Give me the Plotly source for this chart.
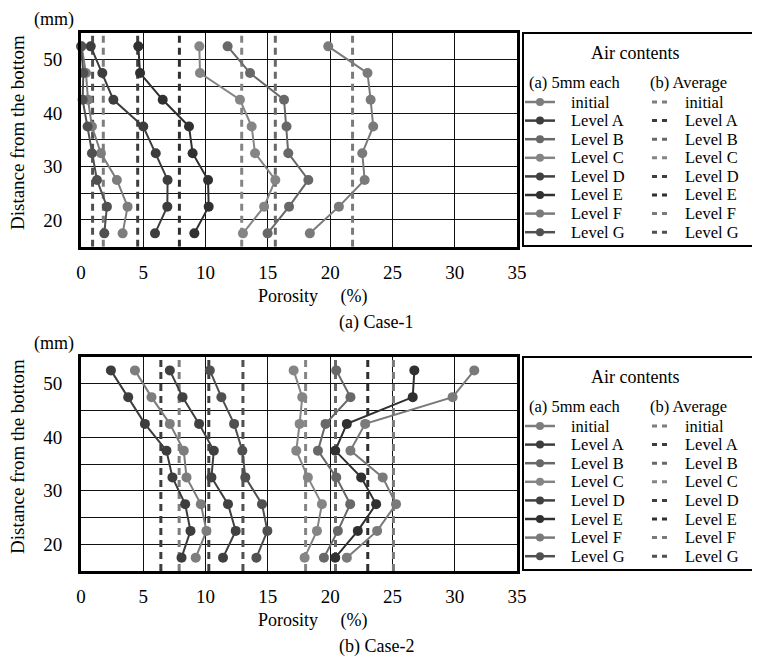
import plotly.graph_objects as go

# ---------------- data ----------------
levels = ["initial", "Level A", "Level B", "Level C", "Level D", "Level E", "Level F", "Level G"]
depth_mm = [52.5, 47.5, 42.5, 37.5, 32.5, 27.5, 22.5, 17.5]
x_ticks = [0, 5, 10, 15, 20, 25, 30, 35]
y_tick_vals = [15, 20, 25, 30, 35, 40, 45, 50, 55]
y_tick_text = ["", "20", "", "30", "", "40", "", "50", ""]
y_range = [15, 55]

# Case-1 porosity (%) for each 5 mm layer (top -> bottom)
c1_initial = [0.05, 0.40, 0.56, 0.88, 1.60, 2.88, 3.74, 3.34]
c1_A = [0.78, 1.71, 2.60, 5.00, 6.00, 6.95, 6.93, 5.94]
c1_B = [11.77, 13.57, 16.30, 16.50, 16.64, 18.25, 16.70, 14.98]
c1_C = [9.50, 9.55, 12.76, 13.70, 13.97, 15.60, 14.70, 13.00]
c1_D = []
c1_E = [4.60, 4.74, 6.56, 8.67, 8.96, 10.20, 10.25, 9.10]
c1_F = [19.85, 23.00, 23.25, 23.46, 22.58, 22.77, 20.70, 18.37]
c1_G = [0.00, 0.19, 0.13, 0.53, 0.88, 1.28, 2.08, 1.87]
c1_avg = [1.79, 4.55, 15.60, 12.90, None, 7.90, 21.80, 0.93]

# Case-2
c2_initial = [4.33, 5.66, 7.13, 8.25, 8.47, 9.62, 10.07, 9.21]
c2_A = [2.40, 3.79, 5.13, 6.86, 7.34, 8.36, 8.79, 8.07]
c2_B = [20.49, 21.63, 19.63, 19.02, 20.49, 21.61, 20.62, 19.50]
c2_C = [17.07, 17.76, 17.55, 17.28, 18.21, 19.34, 18.94, 17.95]
c2_D = [7.13, 8.15, 9.48, 10.66, 10.47, 11.80, 12.42, 11.40]
c2_E = [26.76, 26.63, 21.34, 20.41, 22.49, 23.69, 22.22, 20.41]
c2_F = [31.57, 29.83, 22.81, 21.63, 24.22, 25.29, 23.77, 21.34]
c2_G = [10.34, 11.27, 12.29, 12.95, 13.19, 14.53, 14.96, 14.08]
c2_avg = [7.88, 6.41, 20.43, 18.03, 10.26, 23.02, 25.08, 13.00]

# ---------------- style ----------------
colors = ["#7d7d7d", "#3d3d3d", "#686868", "#858585", "#404040", "#303030", "#7a7a7a", "#505050"]
FONT = "Liberation Serif"
FS = 19
LFS = 16.5
PAGE_OFF = 8            # default body margin of the html page
W, H = 760 - PAGE_OFF, 662 - PAGE_OFF
# plot area in page pixels: x 81..517, bottom plot bottom at 571
ML = 81 - PAGE_OFF
MR = W - (517 - PAGE_OFF)
MT = 33 - PAGE_OFF
MB = H - (571 - PAGE_OFF)
PW, PH = W - ML - MR, H - MT - MB


def px(xp):
    return (xp - PAGE_OFF - ML) / PW


def py(yp):
    return (H - MB - (yp - PAGE_OFF)) / PH


fig = go.Figure()

cases = [
    ([c1_initial, c1_A, c1_B, c1_C, c1_D, c1_E, c1_F, c1_G], c1_avg, "x", "y"),
    ([c2_initial, c2_A, c2_B, c2_C, c2_D, c2_E, c2_F, c2_G], c2_avg, "x2", "y2"),
]

for series, avgs, xa, ya in cases:
    for name, avg, col in zip(levels, avgs, colors):
        if avg is None:
            continue
        fig.add_trace(go.Scatter(
            x=[avg, avg], y=y_range, mode="lines", name=name + " (average)",
            line=dict(color=col, width=3, dash="7px,5px"),
            xaxis=xa, yaxis=ya, showlegend=False, hoverinfo="skip", cliponaxis=False))
    for name, vals, col in zip(levels, series, colors):
        if not vals:
            continue
        fig.add_trace(go.Scatter(
            x=vals, y=depth_mm, mode="lines+markers", name=name,
            line=dict(color=col, width=2), marker=dict(color=col, size=10),
            xaxis=xa, yaxis=ya, showlegend=False, cliponaxis=False))

top_dom = [py(246.7), 1.0]
bot_dom = [0.0, py(357)]

xcommon = dict(range=[0, 35], tickvals=x_ticks, showgrid=True, gridcolor="#111", gridwidth=1,
               showline=True, linecolor="black", linewidth=3, mirror=True, zeroline=False,
               ticks="", tickfont=dict(family=FONT, size=FS, color="black"), ticklabelstandoff=6)
ycommon = dict(range=y_range, tickvals=y_tick_vals, ticktext=y_tick_text, showgrid=True,
               gridcolor="#111", gridwidth=1, showline=True, linecolor="black", linewidth=3,
               mirror=True, zeroline=False, ticks="",
               tickfont=dict(family=FONT, size=FS, color="black"), ticklabelstandoff=12)

fig.update_layout(
    width=W, height=H, margin=dict(l=ML, r=MR, t=MT, b=MB, autoexpand=False),
    paper_bgcolor="white", plot_bgcolor="white", showlegend=False,
    font=dict(family=FONT, size=FS, color="black"),
    xaxis=dict(domain=[0, 1], anchor="y", **xcommon),
    yaxis=dict(domain=top_dom, anchor="x", **ycommon),
    xaxis2=dict(domain=[0, 1], anchor="y2", **xcommon),
    yaxis2=dict(domain=bot_dom, anchor="x2", **ycommon),
)

annotations = []
shapes = []


def text(x, y, s, anchor="center", angle=0, size=FS):
    annotations.append(dict(x=px(x), y=py(y), xref="paper", yref="paper", text=s, showarrow=False,
                            xanchor=anchor, yanchor="middle", textangle=angle,
                            font=dict(family=FONT, size=size, color="black")))


for off, case_label in [(0, "(a) Case-1"), (324, "(b) Case-2")]:
    # axis texts
    text(54, 19 + off, "(mm)", size=18)
    text(17, 133 + off, "Distance from the bottom", angle=-90)
    text(256, 296 + off, "Porosity\u00a0\u00a0\u00a0\u00a0\u00a0(%)", anchor="left", size=18)
    text(376, 322 + off, case_label, size=18)
    # legend
    shapes.append(dict(type="rect", xref="paper", yref="paper", x0=px(523), x1=px(758),
                       y0=py(33 + off), y1=py(246 + off), line=dict(color="black", width=2)))
    text(635, 53 + off, "Air contents", size=18)
    text(527, 82.5 + off, "(a) 5mm each", anchor="left", size=LFS)
    text(648, 82.5 + off, "(b) Average", anchor="left", size=LFS)
    for i, (name, col) in enumerate(zip(levels, colors)):
        yy = 102 + off + 18.6 * i
        shapes.append(dict(type="line", xref="paper", yref="paper", x0=px(525), x1=px(555),
                           y0=py(yy), y1=py(yy), line=dict(color=col, width=2.5)))
        shapes.append(dict(type="circle", xref="paper", yref="paper", x0=px(536), x1=px(544),
                           y0=py(yy + 4), y1=py(yy - 4), fillcolor=col, line=dict(color=col, width=0)))
        text(569, yy, name, anchor="left", size=LFS)
        shapes.append(dict(type="line", xref="paper", yref="paper", x0=px(652), x1=px(669),
                           y0=py(yy), y1=py(yy), line=dict(color=col, width=3, dash="5px,5px")))
        text(683, yy, name, anchor="left", size=LFS)

fig.update_layout(annotations=annotations, shapes=shapes)
fig.write_html("out.html")
